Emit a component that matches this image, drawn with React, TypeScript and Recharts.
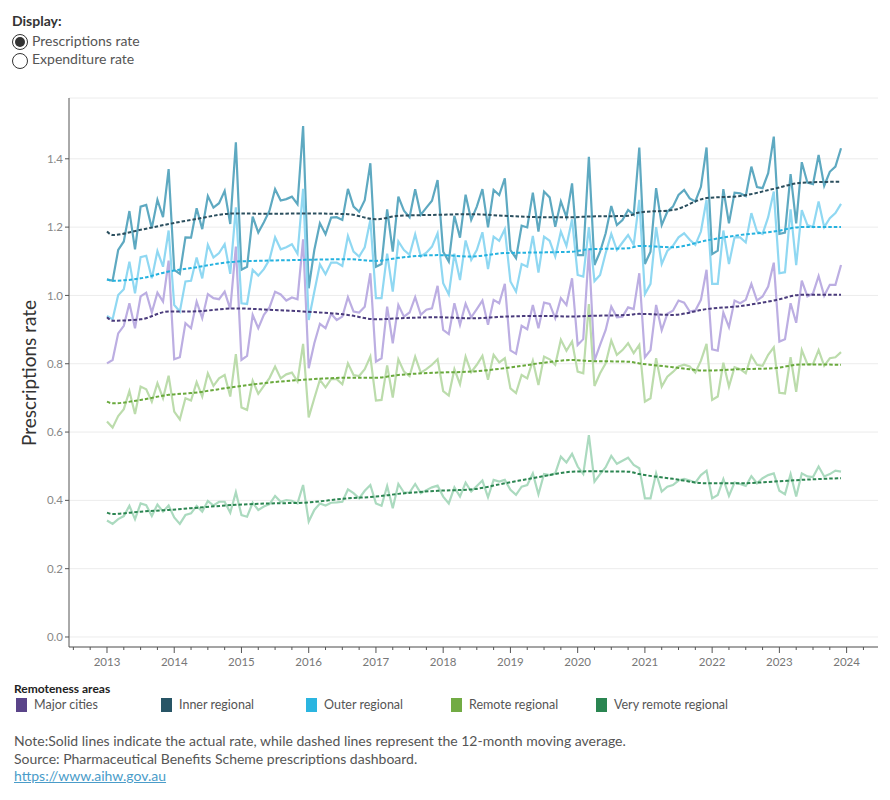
import React from 'react';
import { LineChart, Line, XAxis, YAxis, CartesianGrid } from 'recharts';

// month index 0 = Jan 2013, 131 = Dec 2023
const MAJOR = [
  0.801, 0.811, 0.889, 0.911, 0.977, 0.904, 0.997, 1.008, 0.950, 1.008, 0.982, 1.102,
  0.813, 0.819, 0.919, 0.904, 0.982, 0.933, 1.004, 0.992, 0.989, 1.011, 0.960, 1.143,
  0.811, 0.823, 0.943, 0.904, 0.943, 0.965, 1.011, 1.003, 0.985, 0.994, 0.989, 1.164,
  0.787, 0.860, 0.917, 0.904, 0.946, 0.928, 0.938, 0.995, 0.953, 0.950, 0.967, 1.065,
  0.806, 0.816, 0.967, 0.860, 0.972, 0.938, 0.950, 0.995, 0.943, 0.958, 0.962, 1.028,
  0.899, 0.887, 0.977, 0.914, 0.976, 0.936, 0.960, 0.985, 0.914, 0.987, 0.977, 1.034,
  0.839, 0.829, 0.911, 0.901, 0.972, 0.904, 0.979, 0.975, 0.933, 0.992, 0.972, 1.050,
  0.855, 0.872, 1.133, 0.809, 0.855, 0.899, 0.967, 0.936, 0.938, 0.965, 0.960, 1.065,
  0.819, 0.840, 0.972, 0.898, 0.946, 0.955, 0.985, 0.979, 0.953, 0.956, 0.987, 1.075,
  0.842, 0.838, 0.950, 0.907, 0.985, 0.977, 0.987, 1.034, 0.985, 0.997, 1.026, 1.096,
  0.865, 0.872, 0.977, 0.920, 1.043, 0.997, 1.006, 1.057, 0.999, 1.031, 1.031, 1.089,
];

const INNER = [
  1.047, 1.043, 1.133, 1.158, 1.247, 1.135, 1.260, 1.265, 1.197, 1.280, 1.229, 1.370,
  1.075, 1.063, 1.170, 1.169, 1.255, 1.194, 1.291, 1.257, 1.270, 1.306, 1.209, 1.448,
  1.075, 1.084, 1.231, 1.184, 1.214, 1.248, 1.311, 1.278, 1.282, 1.289, 1.267, 1.496,
  1.021, 1.133, 1.211, 1.179, 1.228, 1.229, 1.221, 1.312, 1.260, 1.245, 1.279, 1.387,
  1.084, 1.092, 1.252, 1.128, 1.289, 1.248, 1.229, 1.311, 1.236, 1.257, 1.277, 1.338,
  1.128, 1.099, 1.233, 1.169, 1.295, 1.221, 1.260, 1.311, 1.199, 1.309, 1.294, 1.343,
  1.133, 1.109, 1.204, 1.199, 1.301, 1.187, 1.304, 1.287, 1.201, 1.275, 1.229, 1.328,
  1.118, 1.118, 1.406, 1.089, 1.128, 1.182, 1.262, 1.206, 1.221, 1.250, 1.236, 1.433,
  1.092, 1.128, 1.314, 1.206, 1.245, 1.260, 1.294, 1.309, 1.284, 1.275, 1.318, 1.433,
  1.121, 1.131, 1.311, 1.211, 1.301, 1.299, 1.291, 1.377, 1.317, 1.314, 1.358, 1.465,
  1.180, 1.184, 1.355, 1.211, 1.390, 1.330, 1.326, 1.411, 1.321, 1.362, 1.377, 1.431,
];

const OUTER = [
  0.940, 0.930, 1.001, 1.018, 1.099, 1.006, 1.112, 1.116, 1.050, 1.130, 1.084, 1.190,
  0.972, 0.953, 1.041, 1.043, 1.111, 1.050, 1.148, 1.111, 1.124, 1.150, 1.063, 1.258,
  0.977, 0.975, 1.075, 1.058, 1.077, 1.105, 1.170, 1.135, 1.141, 1.150, 1.122, 1.312,
  0.928, 1.011, 1.091, 1.062, 1.096, 1.096, 1.086, 1.174, 1.128, 1.114, 1.141, 1.221,
  0.992, 0.992, 1.122, 1.011, 1.158, 1.133, 1.119, 1.179, 1.114, 1.125, 1.143, 1.182,
  1.036, 1.003, 1.122, 1.045, 1.161, 1.104, 1.133, 1.185, 1.077, 1.172, 1.160, 1.194,
  1.041, 1.011, 1.092, 1.084, 1.174, 1.067, 1.172, 1.160, 1.114, 1.187, 1.145, 1.223,
  1.060, 1.055, 1.200, 1.042, 1.060, 1.124, 1.180, 1.133, 1.155, 1.177, 1.148, 1.280,
  1.004, 1.034, 1.200, 1.092, 1.130, 1.145, 1.170, 1.182, 1.163, 1.148, 1.187, 1.280,
  1.034, 1.034, 1.190, 1.092, 1.170, 1.170, 1.155, 1.241, 1.187, 1.180, 1.229, 1.304,
  1.065, 1.068, 1.252, 1.089, 1.250, 1.206, 1.200, 1.275, 1.200, 1.226, 1.241, 1.268,
];

const REMOTE = [
  0.631, 0.613, 0.647, 0.667, 0.720, 0.653, 0.733, 0.725, 0.689, 0.743, 0.699, 0.765,
  0.660, 0.637, 0.699, 0.692, 0.746, 0.704, 0.772, 0.735, 0.757, 0.767, 0.704, 0.828,
  0.672, 0.665, 0.750, 0.712, 0.735, 0.758, 0.792, 0.757, 0.769, 0.774, 0.748, 0.858,
  0.643, 0.699, 0.753, 0.731, 0.755, 0.755, 0.740, 0.801, 0.767, 0.764, 0.784, 0.821,
  0.692, 0.694, 0.795, 0.701, 0.813, 0.777, 0.764, 0.821, 0.774, 0.784, 0.797, 0.813,
  0.720, 0.707, 0.784, 0.740, 0.821, 0.775, 0.797, 0.823, 0.753, 0.826, 0.804, 0.816,
  0.728, 0.714, 0.767, 0.757, 0.809, 0.738, 0.821, 0.813, 0.797, 0.870, 0.838, 0.865,
  0.777, 0.772, 0.975, 0.735, 0.772, 0.801, 0.868, 0.826, 0.840, 0.860, 0.831, 0.855,
  0.689, 0.699, 0.816, 0.733, 0.762, 0.776, 0.792, 0.797, 0.792, 0.774, 0.809, 0.858,
  0.694, 0.704, 0.803, 0.733, 0.790, 0.784, 0.772, 0.824, 0.797, 0.794, 0.826, 0.848,
  0.715, 0.713, 0.819, 0.718, 0.840, 0.799, 0.799, 0.840, 0.794, 0.816, 0.819, 0.834,
];

const VERY_REMOTE = [
  0.341, 0.331, 0.345, 0.354, 0.384, 0.345, 0.391, 0.386, 0.354, 0.388, 0.367, 0.385,
  0.350, 0.331, 0.357, 0.362, 0.384, 0.367, 0.398, 0.385, 0.396, 0.396, 0.364, 0.424,
  0.357, 0.352, 0.393, 0.372, 0.382, 0.389, 0.413, 0.396, 0.401, 0.399, 0.391, 0.445,
  0.338, 0.372, 0.391, 0.385, 0.393, 0.394, 0.396, 0.432, 0.421, 0.406, 0.428, 0.445,
  0.391, 0.384, 0.442, 0.377, 0.448, 0.423, 0.423, 0.448, 0.421, 0.430, 0.438, 0.443,
  0.411, 0.391, 0.438, 0.411, 0.452, 0.426, 0.442, 0.458, 0.409, 0.460, 0.455, 0.460,
  0.431, 0.416, 0.440, 0.445, 0.479, 0.418, 0.477, 0.474, 0.479, 0.528, 0.511, 0.536,
  0.499, 0.477, 0.591, 0.455, 0.477, 0.497, 0.530, 0.507, 0.516, 0.525, 0.504, 0.494,
  0.406, 0.406, 0.479, 0.426, 0.440, 0.445, 0.458, 0.463, 0.458, 0.452, 0.474, 0.487,
  0.406, 0.416, 0.462, 0.413, 0.452, 0.448, 0.442, 0.471, 0.450, 0.465, 0.474, 0.479,
  0.428, 0.418, 0.477, 0.411, 0.479, 0.470, 0.468, 0.499, 0.470, 0.477, 0.487, 0.484,
];

// 12-month moving averages, read at these months
const MA_MONTHS = [0, 1, 6, 11, 15, 23, 29, 35, 43, 48, 52, 59, 65, 71, 78, 83, 86, 93, 95, 101, 107, 113, 119, 124, 131];
const MAJOR_MA = [0.936, 0.926, 0.930, 0.953, 0.953, 0.962, 0.958, 0.953, 0.943, 0.930, 0.933, 0.936, 0.933, 0.938, 0.940, 0.938, 0.940, 0.943, 0.946, 0.943, 0.960, 0.969, 0.985, 1.002, 1.002];
const INNER_MA = [1.187, 1.177, 1.192, 1.209, 1.221, 1.240, 1.239, 1.240, 1.238, 1.223, 1.233, 1.236, 1.238, 1.233, 1.229, 1.229, 1.231, 1.233, 1.243, 1.250, 1.285, 1.291, 1.312, 1.330, 1.333];
const OUTER_MA = [1.047, 1.043, 1.050, 1.070, 1.080, 1.099, 1.102, 1.104, 1.106, 1.101, 1.110, 1.118, 1.114, 1.124, 1.126, 1.128, 1.135, 1.138, 1.145, 1.141, 1.161, 1.177, 1.187, 1.200, 1.200];
const REMOTE_MA = [0.689, 0.684, 0.694, 0.709, 0.714, 0.733, 0.745, 0.753, 0.759, 0.759, 0.767, 0.774, 0.777, 0.787, 0.803, 0.811, 0.808, 0.806, 0.801, 0.790, 0.780, 0.784, 0.787, 0.798, 0.797];
const VERY_REMOTE_MA = [0.364, 0.360, 0.367, 0.372, 0.377, 0.387, 0.391, 0.393, 0.406, 0.411, 0.419, 0.428, 0.432, 0.450, 0.471, 0.484, 0.485, 0.484, 0.477, 0.463, 0.450, 0.450, 0.455, 0.460, 0.465];

const Y_TICKS = [0, 0.2, 0.4, 0.6, 0.8, 1.0, 1.2, 1.4];
const X_TICKS = Array.from({ length: 48 }, (_, i) => -6 + i * 3).filter((m) => m <= 136);

const SERIES = [
  { key: 'major', name: 'Major cities', values: MAJOR, ma: MAJOR_MA, solid: '#bcaee2', dash: '#4a3b7c', swatch: '#5a4489' },
  { key: 'inner', name: 'Inner regional', values: INNER, ma: INNER_MA, solid: '#5ea9c1', dash: '#2b4f5e', swatch: '#285566' },
  { key: 'outer', name: 'Outer regional', values: OUTER, ma: OUTER_MA, solid: '#90d8f2', dash: '#25b2df', swatch: '#2bb5e0' },
  { key: 'remote', name: 'Remote regional', values: REMOTE, ma: REMOTE_MA, solid: '#bcdcac', dash: '#69a93c', swatch: '#72ab44' },
  { key: 'veryRemote', name: 'Very remote regional', values: VERY_REMOTE, ma: VERY_REMOTE_MA, solid: '#abdabf', dash: '#2b8551', swatch: '#2a8551' },
];

const data = MAJOR.map((_, i) => {
  const row: Record<string, number> = { m: i };
  SERIES.forEach((s) => {
    row[s.key] = s.values[i];
    const k = MA_MONTHS.indexOf(i);
    if (k >= 0) row[s.key + 'Ma'] = s.ma[k];
  });
  return row;
});

const FONT = 'Lato, "Noto Sans", sans-serif';

const XTick = (props: any) => {
  const { x, y, payload } = props;
  const m = payload.value;
  const major = m % 12 === 0;
  return (
    <g>
      <line x1={x} x2={x} y1={y} y2={y + (major ? 6 : 3)} stroke="#555" strokeWidth={1} />
      {major && (
        <text x={x} y={y + 19} textAnchor="middle" fill="#777" fontSize={11.5} fontFamily={FONT}>
          {2013 + m / 12}
        </text>
      )}
    </g>
  );
};

const Radio = ({ checked }: { checked: boolean }) => (
  <span
    style={{
      display: 'inline-block',
      width: 16,
      height: 16,
      borderRadius: '50%',
      border: '1px solid #333',
      boxSizing: 'border-box',
      position: 'relative',
      marginRight: 4,
      verticalAlign: 'middle',
      background: '#fff',
    }}
  >
    {checked && (
      <span style={{ position: 'absolute', left: 2, top: 2, width: 10, height: 10, borderRadius: '50%', background: '#333' }} />
    )}
  </span>
);

export default function App() {
  return (
    <div style={{ position: 'relative', width: 890, height: 800, margin: -8, fontFamily: FONT, background: '#fff', overflow: 'hidden' }}>
      <div style={{ position: 'absolute', left: 12, top: 12, fontSize: 14, fontWeight: 700, color: '#333' }}>Display:</div>
      <div style={{ position: 'absolute', left: 12, top: 32, fontSize: 14, color: '#555', lineHeight: '18px' }}>
        <div><Radio checked />Prescriptions rate</div>
        <div><Radio checked={false} />Expenditure rate</div>
      </div>

      <div
        style={{
          position: 'absolute',
          left: 28,
          top: 373,
          transform: 'translate(-50%, -50%) rotate(-90deg)',
          fontSize: 19,
          color: '#333',
          whiteSpace: 'nowrap',
        }}
      >
        Prescriptions rate
      </div>

      <div style={{ position: 'absolute', left: 0, top: 0 }}>
        <LineChart width={890} height={690} data={data} margin={{ top: 98, right: 12, bottom: 13, left: 9 }}>
          <CartesianGrid horizontal vertical={false} stroke="#ececec" />
          <XAxis
            dataKey="m"
            type="number"
            domain={[-6.78, 137.6]}
            ticks={X_TICKS}
            interval={0}
            height={30}
            tickLine={false}
            tickSize={0}
            tickMargin={0}
            axisLine={{ stroke: '#555' }}
            tick={<XTick />}
          />
          <YAxis
            type="number"
            domain={[-0.0293, 1.578]}
            ticks={Y_TICKS}
            interval={0}
            width={60}
            tickFormatter={(v: number) => v.toFixed(1)}
            tick={{ fill: '#888', fontSize: 11.5, fontFamily: FONT }}
            tickSize={4}
            tickLine={{ stroke: '#555' }}
            axisLine={{ stroke: '#555' }}
          />
          {SERIES.map((s) => (
            <Line
              key={s.key}
              type="linear"
              dataKey={s.key}
              stroke={s.solid}
              strokeWidth={2.2}
              dot={false}
              isAnimationActive={false}
            />
          ))}
          {SERIES.map((s) => (
            <Line
              key={s.key + 'Ma'}
              type="monotone"
              dataKey={s.key + 'Ma'}
              stroke={s.dash}
              strokeWidth={2}
              strokeDasharray="3.5 2"
              dot={false}
              connectNulls
              isAnimationActive={false}
            />
          ))}
        </LineChart>
      </div>

      <div style={{ position: 'absolute', left: 14, top: 681, fontSize: 12, fontWeight: 700, color: '#222' }}>Remoteness areas</div>
      <div style={{ position: 'absolute', left: 16, top: 697, display: 'flex', fontSize: 12.5, color: '#555' }}>
        {SERIES.map((s) => (
          <div key={s.key} style={{ width: 145, display: 'flex', alignItems: 'center' }}>
            <span style={{ display: 'inline-block', width: 11, height: 14, background: s.swatch, marginRight: 7 }} />
            {s.name}
          </div>
        ))}
      </div>

      <div style={{ position: 'absolute', left: 14, top: 732, fontSize: 14, color: '#555', lineHeight: '17.5px' }}>
        <div>Note:Solid lines indicate the actual rate, while dashed lines represent the 12-month moving average.</div>
        <div>Source: Pharmaceutical Benefits Scheme prescriptions dashboard.</div>
        <div style={{ color: '#4a9cc9', textDecoration: 'underline' }}>https://www.aihw.gov.au</div>
      </div>
    </div>
  );
}
